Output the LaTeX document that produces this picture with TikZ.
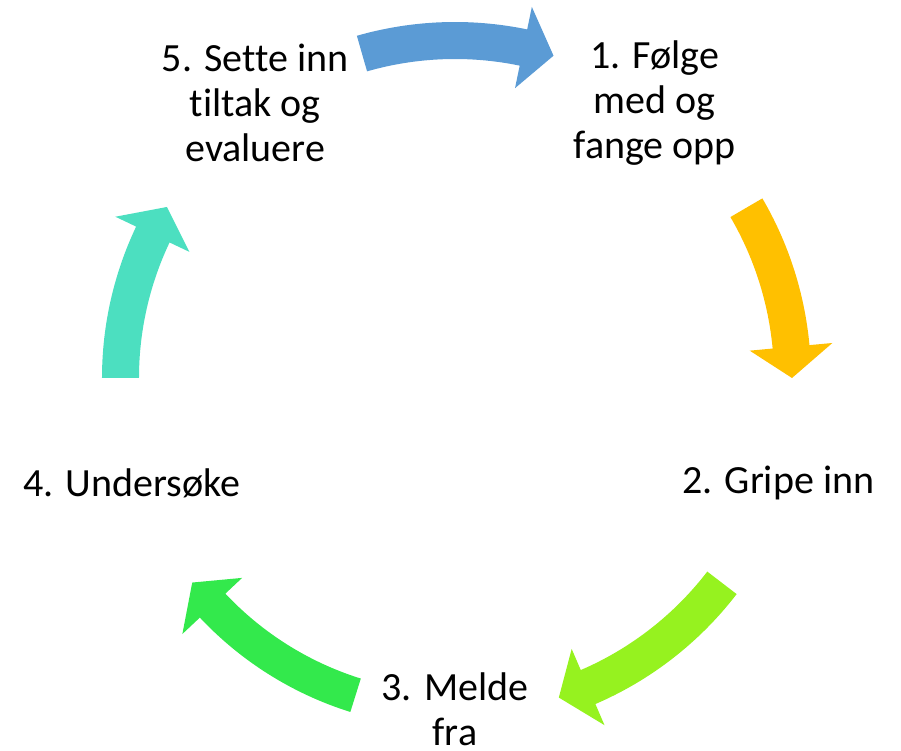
\documentclass[tikz,border=0pt]{standalone}
\usepackage{fontspec}
\setmainfont{Carlito}[Ligatures=NoCommon]
\definecolor{arrowblue}{HTML}{5B9BD5}
\definecolor{arroworange}{HTML}{FFC000}
\definecolor{arrowlime}{HTML}{96F21F}
\definecolor{arrowgreen}{HTML}{33E94C}
\definecolor{arrowteal}{HTML}{4CDFC0}

\begin{document}
\begin{tikzpicture}[
	stage/.style={align=center, text centered, font=\fontsize{40pt}{45pt}\selectfont},
	cyclearrow/.style={draw=none}
	]
	
	\useasboundingbox (-455pt,-373pt) rectangle (446pt,378pt);
	
	\node (follow) [stage] at (54:340pt) {1. Følge\\med og\\fange opp};
	\node (intervene) [stage] at (-18:340pt) {2. Gripe inn};
	\node (report) [stage] at (-90:331pt) {3. Melde\\fra};
	\node (examine) [stage] at (198:340pt) {4. Undersøke};
	\node (measures) [stage] at (126:340pt) {5. Sette inn\\tiltak og\\evaluere};
	
	% curved block arrows, clockwise round the cycle
	\fill [cyclearrow, arrowblue] (106:356pt) arc[start angle=106, end angle=78.3, radius=356pt] -- (78.3:379pt) -- (73:337pt) -- (78.3:296pt) -- (78.3:319pt) arc[start angle=78.3, end angle=106, radius=319pt] -- cycle;
	\fill [cyclearrow, arroworange] (30.3:356pt) arc[start angle=30.3, end angle=5.3, radius=356pt] -- (5.3:379pt) -- (0:337pt) -- (5.3:296pt) -- (5.3:319pt) arc[start angle=5.3, end angle=30.3, radius=319pt] -- cycle;
	\fill [cyclearrow, arrowlime] (-37.5:355pt) arc[start angle=-37.5, end angle=-66.7, radius=355pt] -- (-66.7:378pt) -- (-72:336pt) -- (-66.7:295pt) -- (-66.7:318pt) arc[start angle=-66.7, end angle=-37.5, radius=318pt] -- cycle;
	\fill [cyclearrow, arrowgreen] (-107.4:350pt) arc[start angle=-107.4, end angle=-136.8, radius=350pt] -- (-136.8:374pt) -- (-142.1:333pt) -- (-136.8:292pt) -- (-136.8:315pt) arc[start angle=-136.8, end angle=-107.4, radius=315pt] -- cycle;
	\fill [cyclearrow, arrowteal] (180:353pt) arc[start angle=180, end angle=154.6, radius=353pt] -- (154.6:376pt) -- (149.3:335pt) -- (154.6:294pt) -- (154.6:316pt) arc[start angle=154.6, end angle=180, radius=316pt] -- cycle;
	
\end{tikzpicture}
\end{document}
